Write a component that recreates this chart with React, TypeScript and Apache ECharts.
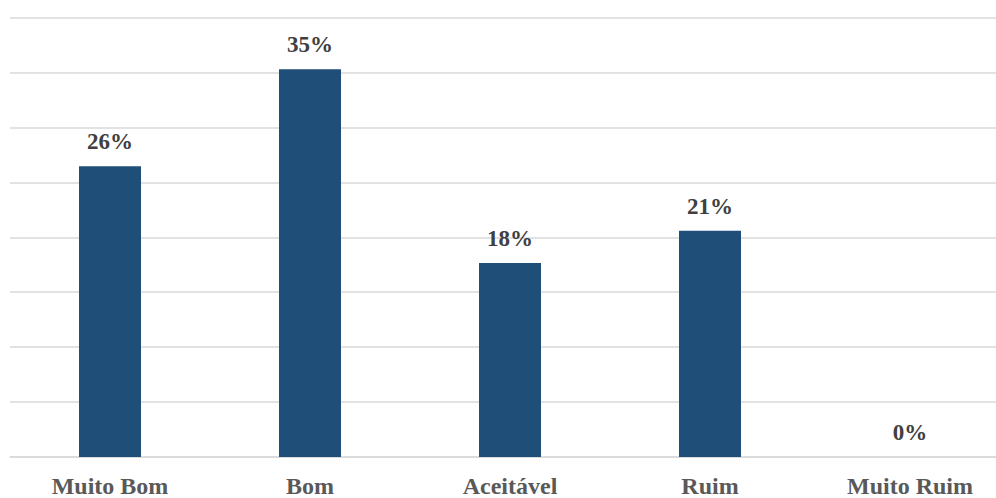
import React, { useEffect, useRef } from "react";
import * as echarts from "echarts";

const categories = ["Muito Bom", "Bom", "Aceitável", "Ruim", "Muito Ruim"];
const values = [26.47, 35.29, 17.65, 20.59, 0];
const yMin = 0;
const yMax = 40;
const yInterval = 5;

export default function App() {
  const ref = useRef<HTMLDivElement>(null);
  useEffect(() => {
    if (!ref.current) return;
    const chart = echarts.init(ref.current, undefined, { renderer: "svg" });
    chart.setOption({
      animation: false,
      grid: { left: 10, right: 0, top: 17.5, bottom: 39.5, containLabel: false },
      xAxis: {
        type: "category",
        data: categories,
        axisLine: { show: true, lineStyle: { color: "#d9d9d9", width: 1.5 } },
        axisTick: { show: false },
        axisLabel: {
          color: "#595959",
          fontFamily: "'Liberation Serif', 'Times New Roman', serif",
          fontWeight: "bold",
          fontSize: 24,
          margin: 17,
          interval: 0,
        },
      },
      yAxis: {
        type: "value",
        min: yMin,
        max: yMax,
        interval: yInterval,
        axisLabel: { show: false },
        axisLine: { show: false },
        axisTick: { show: false },
        splitLine: { lineStyle: { color: "#d9d9d9", width: 1.5 } },
      },
      series: [
        {
          type: "bar",
          data: values,
          barWidth: 62,
          itemStyle: { color: "#1F4E79" },
          label: {
            show: true,
            position: "top",
            distance: 13,
            color: "#404040",
            fontFamily: "'Liberation Serif', 'Times New Roman', serif",
            fontWeight: "bold",
            fontSize: 23,
            formatter: (p: any) => Math.round(p.value) + "%",
          },
        },
      ],
    });
    return () => chart.dispose();
  }, []);
  return (
    <div style={{ width: 996, height: 498, position: "absolute", left: 0, top: 0, overflow: "hidden" }}>
      <div ref={ref} style={{ width: 1010, height: 498 }} />
    </div>
  );
}
